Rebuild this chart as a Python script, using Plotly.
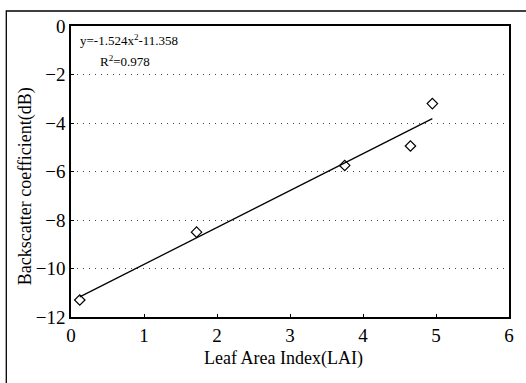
import plotly.graph_objects as go

lai = [0.12, 1.72, 3.75, 4.65, 4.95]
backscatter = [-11.3, -8.5, -5.75, -4.95, -3.2]
fit_x = [0.12, 4.95]
fit_y = [-11.17, -3.82]
x_ticks = [0, 1, 2, 3, 4, 5, 6]
y_ticks = [0, -2, -4, -6, -8, -10, -12]

font = "Liberation Serif"
fig = go.Figure()
fig.add_trace(go.Scatter(x=fit_x, y=fit_y, mode="lines",
                         line=dict(color="black", width=1.3), showlegend=False))
fig.add_trace(go.Scatter(x=lai, y=backscatter, mode="markers",
                         marker=dict(symbol="diamond-open", size=8, color="black",
                                     line=dict(width=1.2, color="black")),
                         showlegend=False))

fig.update_layout(
    width=526, height=383,
    margin=dict(l=71, r=15, t=26, b=66),
    paper_bgcolor="white", plot_bgcolor="white",
    font=dict(family=font, color="black", size=16),
    xaxis=dict(range=[0, 6], tickvals=x_ticks, ticks="inside", ticklen=3,
               tickcolor="black", showline=True, linecolor="black", linewidth=1.5,
               mirror=True, showgrid=False, zeroline=False,
               tickfont=dict(family=font, size=19)),
    yaxis=dict(range=[-12, 0], tickvals=y_ticks, ticks="inside", ticklen=3,
               tickcolor="black", showline=True, linecolor="black", linewidth=1.5,
               mirror=True, showgrid=True, gridcolor="#444", griddash="1px,5px",
               gridwidth=1, zeroline=False,
               tickfont=dict(family=font, size=19)),
    shapes=[dict(type="rect", xref="paper", yref="paper",
                 x0=-65/440, x1=1.05, y0=-0.24, y1=1 + 15/291,
                 line=dict(color="black", width=1.3), layer="below")],
    annotations=[
        dict(text="Leaf Area Index(LAI)", xref="paper", yref="paper",
             x=0.486, y=-0.141, xanchor="center", yanchor="middle", showarrow=False,
             font=dict(family=font, size=18)),
        dict(text="Backscatter coefficient(dB)", xref="paper", yref="paper",
             x=-0.1045, y=0.45, xanchor="center", yanchor="middle", showarrow=False,
             textangle=-90, font=dict(family=font, size=18)),
        dict(text="y=-1.524x<sup>2</sup>-11.358", xref="paper", yref="paper",
             x=0.015, y=0.985, xanchor="left", yanchor="top", showarrow=False,
             font=dict(family=font, size=13)),
        dict(text="R<sup>2</sup>=0.978", xref="paper", yref="paper",
             x=0.062, y=0.915, xanchor="left", yanchor="top", showarrow=False,
             font=dict(family=font, size=13)),
    ],
)
fig.write_html("out.html")
